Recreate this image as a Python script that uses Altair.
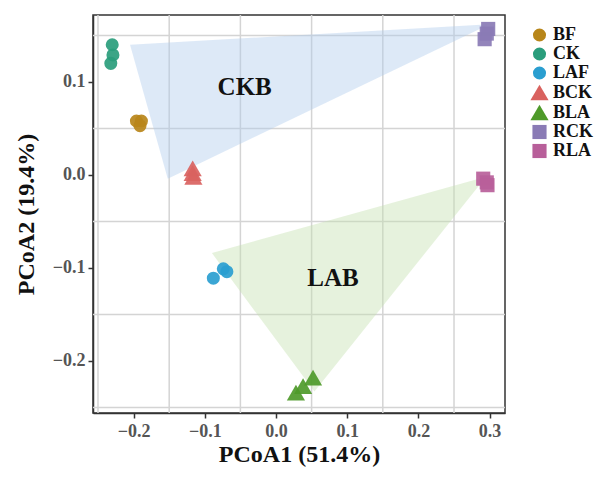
import altair as alt
import pandas as pd

# ---- data ----
groups = ["BF", "CK", "LAF", "BCK", "BLA", "RCK", "RLA"]
colors = ["#b8861a", "#2a9d7c", "#2a9ed0", "#d9625f", "#4e9a2a", "#8a7bb5", "#b85f9a"]
shapes = ["circle", "circle", "circle", "triangle-up", "triangle-up", "square", "square"]
marker_sizes = [170, 170, 170, 330, 330, 200, 200]

pt_group = ["BF", "BF", "BF", "CK", "CK", "CK", "LAF", "LAF", "LAF",
            "BCK", "BCK", "BCK", "BLA", "BLA", "BLA", "RCK", "RCK", "RCK",
            "RLA", "RLA", "RLA"]
pt_x = [-0.196, -0.189, -0.191, -0.230, -0.229, -0.232, -0.088, -0.074, -0.069,
        -0.117, -0.117, -0.116, 0.052, 0.038, 0.028, 0.293, 0.296, 0.298,
        0.291, 0.296, 0.297]
pt_y = [0.058, 0.058, 0.053, 0.140, 0.129, 0.120, -0.111, -0.101, -0.104,
        0.007, 0.002, -0.002, -0.218, -0.227, -0.234, 0.146, 0.152, 0.157,
        -0.004, -0.008, -0.011]

poly_name = ["CKB", "CKB", "CKB", "LAB", "LAB", "LAB"]
poly_order = [0, 1, 2, 0, 1, 2]
poly_x = [-0.205, -0.152, 0.300, -0.090, 0.054, 0.295]
poly_y = [0.140, -0.004, 0.162, -0.084, -0.233, -0.002]

label_text = ["CKB", "LAB"]
label_x = [-0.044, 0.080]
label_y = [0.095, -0.111]

x_ticks = [-0.2, -0.1, 0.0, 0.1, 0.2, 0.3]
y_ticks = [-0.2, -0.1, 0.0, 0.1]
grid_x = [-0.25, -0.15, -0.05, 0.05, 0.15, 0.25]
grid_y = [-0.25, -0.15, -0.05, 0.05, 0.15]

x_domain = [-0.257, 0.3216]
y_domain = [-0.256, 0.172]

FONT = "Liberation Serif"

pts = pd.DataFrame({"group": pt_group, "x": pt_x, "y": pt_y})
polys = pd.DataFrame({"name": poly_name, "o": poly_order, "x": poly_x, "y": poly_y})
labels = pd.DataFrame({"t": label_text, "x": label_x, "y": label_y})
gx = pd.DataFrame({"x": grid_x})
gy = pd.DataFrame({"y": grid_y})

xs = alt.Scale(domain=x_domain, nice=False, zero=False)
ys = alt.Scale(domain=y_domain, nice=False, zero=False)

xaxis = alt.Axis(values=x_ticks, format=".1f", grid=False, title="PCoA1 (51.4%)",
                 titlePadding=2, labelPadding=4)
yaxis = alt.Axis(values=y_ticks, format=".1f", grid=False, title="PCoA2 (19.4%)",
                 titlePadding=14, labelPadding=3)

grid_v = alt.Chart(gx).mark_rule(color="#d4d4d4", strokeWidth=1.5).encode(
    x=alt.X("x:Q", scale=xs, axis=xaxis))
grid_h = alt.Chart(gy).mark_rule(color="#d4d4d4", strokeWidth=1.5).encode(
    y=alt.Y("y:Q", scale=ys, axis=yaxis))

poly_colors = ["#aecbeb", "#c4e0ad"]
polygons = alt.Chart(polys).mark_line(strokeWidth=0, fillOpacity=0.42).encode(
    x=alt.X("x:Q", scale=xs),
    y=alt.Y("y:Q", scale=ys),
    order="o:Q",
    fill=alt.Fill("name:N", scale=alt.Scale(domain=["CKB", "LAB"], range=poly_colors),
                  legend=None),
    detail="name:N",
)

legend = alt.Legend(title=None, orient="none", legendX=437, legendY=11,
                    labelFontSize=18, labelFont=FONT, labelFontWeight="bold",
                    labelColor="#111", symbolOpacity=1, rowPadding=1, padding=0,
                    labelOffset=4, symbolStrokeWidth=0)

points = alt.Chart(pts).mark_point(filled=True, opacity=0.92, strokeWidth=0).encode(
    x=alt.X("x:Q", scale=xs),
    y=alt.Y("y:Q", scale=ys),
    color=alt.Color("group:N", scale=alt.Scale(domain=groups, range=colors), legend=legend),
    shape=alt.Shape("group:N", scale=alt.Scale(domain=groups, range=shapes), legend=legend),
    size=alt.Size("group:N", scale=alt.Scale(type="ordinal", domain=groups, range=marker_sizes),
                  legend=legend),
)

texts = alt.Chart(labels).mark_text(font=FONT, fontWeight="bold", fontSize=25,
                                    color="#111").encode(
    x=alt.X("x:Q", scale=xs), y=alt.Y("y:Q", scale=ys), text="t:N")

chart = alt.layer(grid_v, grid_h, polygons, points, texts).properties(
    width=412, height=398,
    autosize=alt.AutoSizeParams(type="none"),
    padding={"left": 85, "top": 7, "right": 91, "bottom": 56},
).configure_view(stroke="#333", strokeWidth=1.5).configure_axis(
    labelFont=FONT, labelFontWeight="bold", labelFontSize=18, labelColor="#555",
    titleFont=FONT, titleFontWeight="bold", titleFontSize=24, titleColor="#111",
    tickColor="#333", tickSize=5, tickWidth=1.5, domainColor="#333", domainWidth=1.5,
)

chart.save("out.html", embed_options={"renderer": "svg", "actions": False})
